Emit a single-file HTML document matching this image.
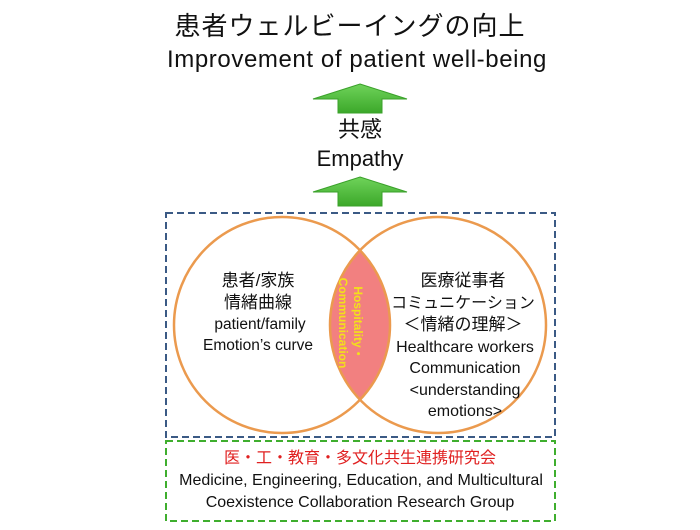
<!DOCTYPE html>
<html><head><meta charset="utf-8"><style>
body{margin:0;width:700px;height:525px;background:#fff;overflow:hidden}
svg text{font-family:"Liberation Sans","Noto Sans CJK JP",sans-serif}
</style></head><body>
<svg width="700" height="525" viewBox="0 0 700 525">
<defs>
<linearGradient id="g" x1="0" y1="0" x2="0" y2="1"><stop offset="0" stop-color="#6fd35a"/><stop offset="1" stop-color="#3ca82a"/></linearGradient>
<clipPath id="cl"><circle cx="282" cy="325" r="108"/></clipPath>
</defs>
<text x="350" y="35" font-size="26" text-anchor="middle" fill="#111" letter-spacing="1">患者ウェルビーイングの向上</text>
<text x="357" y="67" font-size="24" text-anchor="middle" fill="#111" letter-spacing="0.6">Improvement of patient  well-being</text>
<polygon points="360,84 407,99 382,99 382,113 338,113 338,99 313,99" fill="url(#g)" stroke="#3aa12a" stroke-width="1"/>
<text x="360" y="137" font-size="22" text-anchor="middle" fill="#111">共感</text>
<text x="360" y="166" font-size="22" text-anchor="middle" fill="#111">Empathy</text>
<polygon points="360,177 407,192 382,192 382,206 338,206 338,192 313,192" fill="url(#g)" stroke="#3aa12a" stroke-width="1"/>
<rect x="166" y="213" width="389" height="224" fill="none" stroke="#3b5a85" stroke-width="2" stroke-dasharray="7,4"/>
<circle cx="438" cy="325" r="108" fill="#f28080" clip-path="url(#cl)"/>
<circle cx="282" cy="325" r="108" fill="none" stroke="#eb9a4e" stroke-width="2.5"/>
<circle cx="438" cy="325" r="108" fill="none" stroke="#eb9a4e" stroke-width="2.5"/>
<text transform="translate(350,323) rotate(90)" font-size="12" font-weight="bold" fill="#f3e01a" text-anchor="middle"><tspan x="0" y="-4">Hospitality・</tspan><tspan x="0" y="11">Communication</tspan></text>
<g font-size="17" fill="#111" text-anchor="middle">
<text x="258" y="286">患者/家族</text>
<text x="258" y="308">情緒曲線</text>
<text x="260" y="329" font-size="15.5">patient/family</text>
<text x="258" y="350" font-size="15.5">Emotion’s curve</text>
<text x="463" y="286">医療従事者</text>
<text x="463" y="308" font-size="16">コミュニケーション</text>
<text x="463" y="330">＜情緒の理解＞</text>
<text x="465" y="352" font-size="16">Healthcare workers</text>
<text x="465" y="373" font-size="16">Communication</text>
<text x="465" y="395" font-size="16">&lt;understanding</text>
<text x="465" y="416" font-size="16">emotions&gt;</text>
</g>
<rect x="166" y="441" width="389" height="80" fill="none" stroke="#3fae2e" stroke-width="2" stroke-dasharray="7,4"/>
<text x="360" y="463" font-size="16" text-anchor="middle" fill="#e02020">医・工・教育・多文化共生連携研究会</text>
<text x="361" y="485" font-size="16" text-anchor="middle" fill="#111">Medicine, Engineering, Education, and Multicultural</text>
<text x="360" y="507" font-size="16" text-anchor="middle" fill="#111">Coexistence Collaboration Research Group</text>
</svg>
</body></html>
